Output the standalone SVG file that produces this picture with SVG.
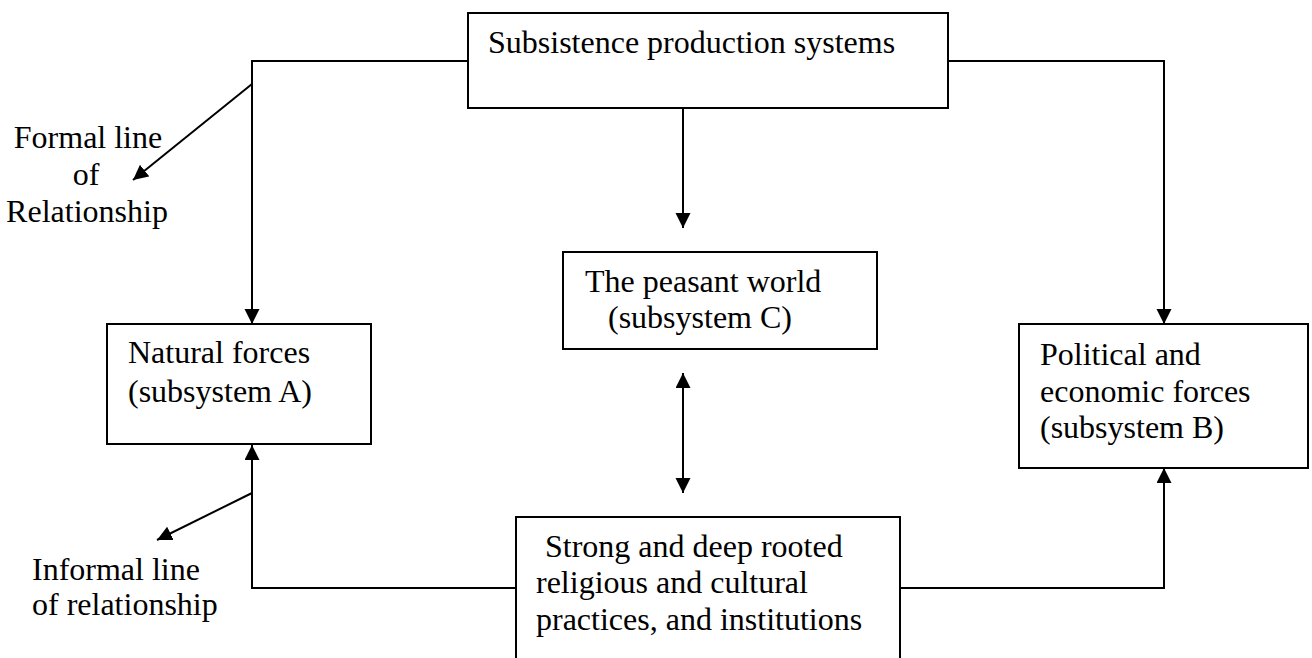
<svg xmlns="http://www.w3.org/2000/svg" width="1312" height="658" viewBox="0 0 1312 658">
<style>
.box{fill:#fff;stroke:#000;stroke-width:2}
.t{font-family:"Liberation Serif","Times New Roman",serif;font-size:32px;fill:#000}
.c{fill:none;stroke:#000;stroke-width:2}
</style>
<defs>
<marker id="ah" markerUnits="userSpaceOnUse" markerWidth="16" markerHeight="16" viewBox="0 0 16 16" refX="15" refY="7.5" orient="auto-start-reverse">
<path d="M0,0 L15,7.5 L0,15 z" fill="#000"/>
</marker>
</defs>
<rect width="1312" height="658" fill="#fff"/>
<g id="connectors">
<polyline class="c" points="468,61 252,61 252,324" marker-end="url(#ah)"/>
<polyline class="c" points="948,61 1164,61 1164,324" marker-end="url(#ah)"/>
<line class="c" x1="683" y1="108" x2="683" y2="228" marker-end="url(#ah)"/>
<line class="c" x1="683" y1="373" x2="683" y2="493" marker-start="url(#ah)" marker-end="url(#ah)"/>
<polyline class="c" points="516,588 252,588 252,445" marker-end="url(#ah)"/>
<polyline class="c" points="900,588 1164,588 1164,468" marker-end="url(#ah)"/>
<line class="c" x1="252" y1="84" x2="133" y2="180" marker-end="url(#ah)"/>
<line class="c" x1="252" y1="493" x2="157" y2="540" marker-end="url(#ah)"/>
</g>
<g id="node-top">
<rect class="box" x="468" y="13" width="480" height="95"/>
<text class="t" x="488" y="53">Subsistence production systems</text>
</g>
<g id="node-a">
<rect class="box" x="107" y="324" width="264" height="120"/>
<text class="t" x="128" y="363">Natural forces</text>
<text class="t" x="128" y="402">(subsystem A)</text>
</g>
<g id="node-c">
<rect class="box" x="563" y="252" width="314" height="97"/>
<text class="t" x="585" y="292">The peasant world</text>
<text class="t" x="608" y="328">(subsystem C)</text>
</g>
<g id="node-b">
<rect class="box" x="1019" y="324" width="289" height="144"/>
<text class="t" x="1040" y="365">Political and</text>
<text class="t" x="1040" y="402">economic forces</text>
<text class="t" x="1040" y="438">(subsystem B)</text>
</g>
<g id="node-bottom">
<rect class="box" x="516" y="517" width="384" height="160"/>
<text class="t" x="545" y="557">Strong and deep rooted</text>
<text class="t" x="536" y="593">religious and cultural</text>
<text class="t" x="536" y="630">practices, and institutions</text>
</g>
<g id="label-formal">
<text class="t" x="88" y="148" text-anchor="middle">Formal line</text>
<text class="t" x="86" y="185" text-anchor="middle">of</text>
<text class="t" x="87" y="222" text-anchor="middle">Relationship</text>
</g>
<g id="label-informal">
<text class="t" x="32" y="580">Informal line</text>
<text class="t" x="32" y="615">of relationship</text>
</g>
</svg>
